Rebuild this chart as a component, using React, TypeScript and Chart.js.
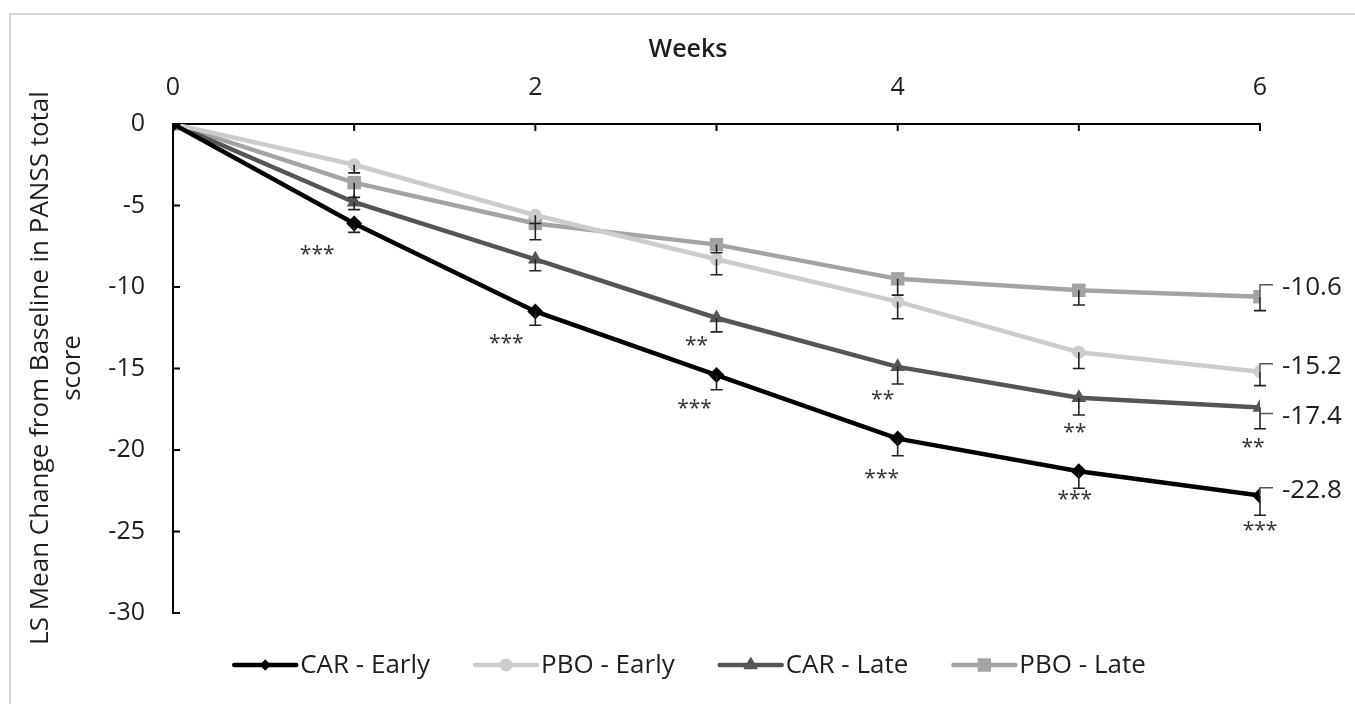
import React, { useEffect, useRef } from 'react';
import { Chart, registerables } from 'chart.js';

Chart.register(...registerables);

// ---- data ----
const weeks = [0, 1, 2, 3, 4, 5, 6];
const seriesNames = ['CAR - Early', 'PBO - Early', 'CAR - Late', 'PBO - Late'];
const carEarly = [0, -6.1, -11.5, -15.4, -19.3, -21.3, -22.8];
const pboEarly = [0, -2.5, -5.6, -8.3, -10.9, -14.0, -15.2];
const carLate = [0, -4.8, -8.3, -11.9, -14.9, -16.8, -17.4];
const pboLate = [0, -3.6, -6.1, -7.4, -9.5, -10.2, -10.6];
const carEarlyErr = [0, 0.55, 0.85, 0.9, 1.05, 1.05, 1.2];
const pboEarlyErr = [0, 0.5, 0.5, 0.95, 1.05, 1.0, 0.85];
const carLateErr = [0, 0.45, 0.7, 0.85, 1.05, 1.05, 1.3];
const pboLateErr = [0, 0.9, 1.0, 0.5, 1.0, 0.9, 0.85];
const carEarlySig = ['', '***', '***', '***', '***', '***', '***'];
const pboEarlySig = ['', '', '', '', '', '', ''];
const carLateSig = ['', '', '', '**', '**', '**', '**'];
const pboLateSig = ['', '', '', '', '', '', ''];
const endLabels = ['-22.8', '-15.2', '-17.4', '-10.6'];
const xTitle = 'Weeks';
const yTitleLines = ['LS Mean Change from Baseline in PANSS total', 'score'];
const yMin = -30;
const yMax = 0;
const yStep = 5;

// ---- styles ----
const FONT = '"Open Sans", "Noto Sans", sans-serif';
const TEXT = '#1e1e1e';
const colors = ['#000000', '#cccccc', '#555555', '#a3a3a3'];
const pointStyles = ['rectRot', 'circle', 'triangle', 'rect'];
const pointRadii = [8, 6.5, 8.5, 9.5];
// star offsets (px) per series per week
const starOffsets = [
  [[0, 0], [-37, 28], [-29, 29], [-22, 30], [-16, 36], [-4, 25], [0, 31]],
  [],
  [[0, 0], [0, 0], [0, 0], [-20, 24], [-15, 29], [-4, 31], [-7, 36]],
  [],
];
// end label leader y offset (px) relative to last point
const endLeaderOffsets = [-8, -8, 6, -12];

const values = [carEarly, pboEarly, carLate, pboLate];
const errors = [carEarlyErr, pboEarlyErr, carLateErr, pboLateErr];
const sigs = [carEarlySig, pboEarlySig, carLateSig, pboLateSig];

function drawMarker(ctx: CanvasRenderingContext2D, style: string, x: number, y: number, r: number, color: string) {
  ctx.save();
  ctx.fillStyle = color;
  ctx.beginPath();
  if (style === 'circle') {
    ctx.arc(x, y, r, 0, Math.PI * 2);
  } else if (style === 'rect') {
    const s = Math.SQRT1_2 * r;
    ctx.rect(x - s, y - s, 2 * s, 2 * s);
  } else if (style === 'rectRot') {
    const s = Math.SQRT1_2 * r;
    ctx.moveTo(x - s, y);
    ctx.lineTo(x, y + s);
    ctx.lineTo(x + s, y);
    ctx.lineTo(x, y - s);
    ctx.closePath();
  } else if (style === 'triangle') {
    const side = (3 * r) / Math.sqrt(3);
    const h = (side * Math.sqrt(3)) / 2;
    ctx.moveTo(x - side / 2, y + h / 3);
    ctx.lineTo(x + side / 2, y + h / 3);
    ctx.lineTo(x, y - (2 * h) / 3);
    ctx.closePath();
  }
  ctx.fill();
  ctx.restore();
}

const overlayPlugin = {
  id: 'overlay',
  afterDatasetsDraw(chart: any) {
    const ctx: CanvasRenderingContext2D = chart.ctx;
    const xs = chart.scales.x;
    const ys = chart.scales.y;
    ctx.save();
    // error bars (downward, with cap)
    ctx.strokeStyle = '#222';
    ctx.lineWidth = 1.6;
    values.forEach((vals, si) => {
      vals.forEach((v, j) => {
        const e = errors[si][j];
        if (!e) return;
        const px = xs.getPixelForValue(weeks[j]);
        const py = ys.getPixelForValue(v);
        const py2 = ys.getPixelForValue(v - e);
        ctx.beginPath();
        ctx.moveTo(px, py);
        ctx.lineTo(px, py2);
        ctx.moveTo(px - 6, py2);
        ctx.lineTo(px + 6, py2);
        ctx.stroke();
      });
    });
    ctx.restore();
  },
  afterDraw(chart: any) {
    const ctx: CanvasRenderingContext2D = chart.ctx;
    const xs = chart.scales.x;
    const ys = chart.scales.y;
    const ca = chart.chartArea;
    ctx.save();
    // inward tick marks
    ctx.strokeStyle = '#000';
    ctx.lineWidth = 2;
    weeks.forEach((w) => {
      const px = xs.getPixelForValue(w);
      ctx.beginPath();
      ctx.moveTo(px, ca.top);
      ctx.lineTo(px, ca.top + 7);
      ctx.stroke();
    });
    for (let v = yMax; v >= yMin; v -= yStep) {
      const py = ys.getPixelForValue(v);
      ctx.beginPath();
      ctx.moveTo(ca.left, py);
      ctx.lineTo(ca.left + 7, py);
      ctx.stroke();
    }

    // significance stars
    ctx.fillStyle = '#333';
    ctx.font = `21px ${FONT}`;
    ctx.textAlign = 'center';
    ctx.textBaseline = 'middle';
    sigs.forEach((arr, si) => {
      arr.forEach((s, j) => {
        if (!s) return;
        const off = starOffsets[si][j] || [0, 0];
        const px = xs.getPixelForValue(weeks[j]);
        const py = ys.getPixelForValue(values[si][j]);
        ctx.fillText(s, px + off[0], py + off[1] + 4);
      });
    });

    // end labels with leaders
    const last = weeks.length - 1;
    ctx.font = `26px ${FONT}`;
    ctx.textAlign = 'left';
    ctx.fillStyle = TEXT;
    values.forEach((vals, si) => {
      const px = xs.getPixelForValue(weeks[last]);
      const py = ys.getPixelForValue(vals[last]);
      const ly = py + endLeaderOffsets[si];
      ctx.strokeStyle = '#555';
      ctx.lineWidth = 1.5;
      ctx.beginPath();
      ctx.moveTo(px, py);
      ctx.lineTo(px, ly);
      ctx.lineTo(px + 13, ly);
      ctx.stroke();
      ctx.fillText(endLabels[si], px + 22, ly + 3);
    });

    // x title
    ctx.font = `600 25px ${FONT}`;
    ctx.textAlign = 'center';
    ctx.textBaseline = 'middle';
    ctx.fillStyle = TEXT;
    ctx.fillText(xTitle, 688, 50);

    // y title (rotated, two lines)
    ctx.save();
    ctx.translate(41, 368);
    ctx.rotate(-Math.PI / 2);
    ctx.font = `26px ${FONT}`;
    ctx.textAlign = 'center';
    ctx.textBaseline = 'middle';
    ctx.fillText(yTitleLines[0], 0, 0);
    ctx.fillText(yTitleLines[1], 0, 32);
    ctx.restore();

    // legend
    ctx.font = `26px ${FONT}`;
    ctx.textBaseline = 'middle';
    ctx.textAlign = 'left';
    const lineLen = 62;
    const gapText = 4;
    const gapItem = 45;
    const widths = seriesNames.map((n) => ctx.measureText(n).width);
    const total = widths.reduce((a, w) => a + lineLen + gapText + w, 0) + gapItem * (seriesNames.length - 1);
    let lx = 690 - total / 2;
    const ly = 665;
    seriesNames.forEach((n, si) => {
      ctx.strokeStyle = colors[si];
      ctx.lineWidth = 4.5;
      ctx.lineCap = 'round';
      ctx.beginPath();
      ctx.moveTo(lx, ly);
      ctx.lineTo(lx + lineLen, ly);
      ctx.stroke();
      drawMarker(ctx, pointStyles[si], lx + lineLen / 2, ly, pointRadii[si], colors[si]);
      ctx.fillStyle = TEXT;
      ctx.fillText(n, lx + lineLen + gapText, ly + 1);
      lx += lineLen + gapText + widths[si] + gapItem;
    });
    ctx.restore();
  },
};

export default function App() {
  const ref = useRef<HTMLCanvasElement | null>(null);
  useEffect(() => {
    if (!ref.current) return;
    const datasets = values.map((vals, si) => ({
      label: seriesNames[si],
      data: weeks.map((w, j) => ({ x: w, y: vals[j] })),
      borderColor: colors[si],
      backgroundColor: colors[si],
      borderWidth: 4.5,
      pointStyle: pointStyles[si],
      pointRadius: pointRadii[si],
      pointBorderWidth: 0,
      pointBackgroundColor: colors[si],
      tension: 0,
      order: si,
    }));
    const chart = new Chart(ref.current, {
      type: 'line',
      data: { datasets },
      options: {
        animation: false,
        responsive: false,
        maintainAspectRatio: false,
        layout: { padding: { left: 0, right: 95, top: 0, bottom: 91 } },
        plugins: { legend: { display: false }, tooltip: { enabled: false } },
        scales: {
          x: {
            type: 'linear',
            position: 'top',
            min: 0,
            max: 6,
            afterFit: (scale: any) => {
              scale.height = 124;
            },
            grid: { display: true, drawOnChartArea: false, drawTicks: false },
            border: { display: true, color: '#000', width: 2 },
            ticks: {
              stepSize: 1,
              autoSkip: false,
              maxRotation: 0,
              padding: 21,
              color: TEXT,
              font: { family: FONT, size: 25 },
              callback: (v: any) => (Number(v) % 2 === 0 ? String(v) : ''),
            },
          },
          y: {
            type: 'linear',
            min: yMin,
            max: yMax,
            afterFit: (scale: any) => {
              scale.width = 173;
            },
            grid: { display: true, drawOnChartArea: false, drawTicks: false },
            border: { display: true, color: '#000', width: 2 },
            ticks: {
              stepSize: yStep,
              padding: 28,
              color: TEXT,
              font: { family: FONT, size: 25 },
            },
          },
        },
      },
      plugins: [overlayPlugin],
    } as any);
    return () => chart.destroy();
  }, []);
  return (
    <div style={{ position: 'absolute', left: 0, top: 0, width: 1355, height: 704, background: '#fff', overflow: 'hidden' }}>
      <div
        style={{
          position: 'absolute',
          left: 9,
          top: 13,
          width: 1400,
          height: 720,
          borderTop: '2px solid #d6d6d6',
          borderLeft: '2px solid #d6d6d6',
        }}
      />
      <canvas ref={ref} width={1355} height={704} style={{ position: 'absolute', left: 0, top: 0 }} />
    </div>
  );
}
